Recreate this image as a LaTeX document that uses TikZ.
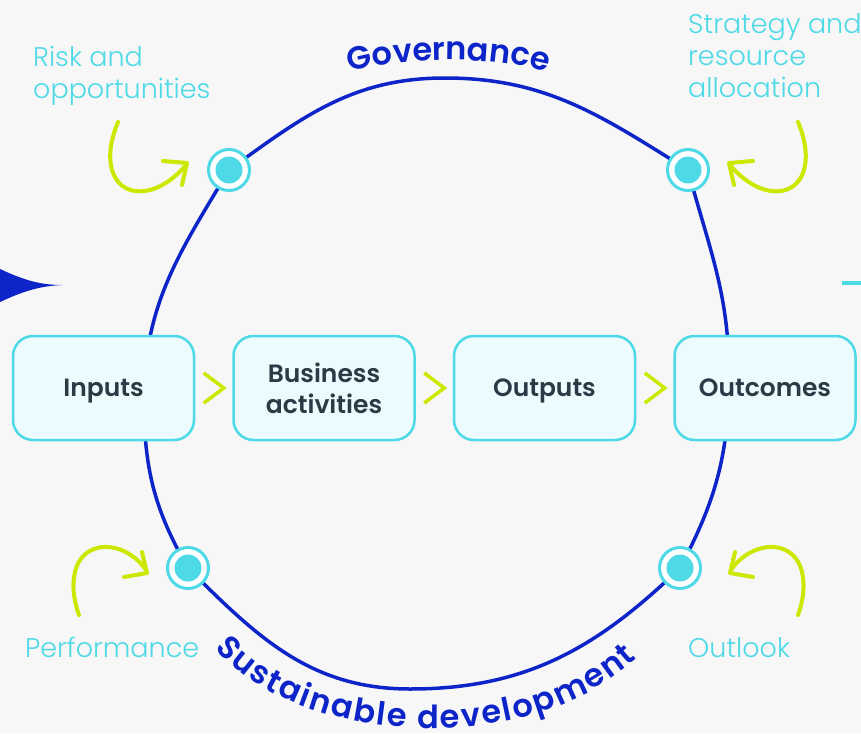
\documentclass[tikz,border=0pt]{standalone}
\usepackage{fontspec}
\setmainfont{Poppins}
\newfontfamily\lightfont{Poppins Light}
\newfontfamily\boxfont{Poppins SemiBold}
\usepackage{tikz}
\usetikzlibrary{positioning,calc,decorations.text}
\definecolor{navy}{RGB}{12,36,200}
\definecolor{aqua}{RGB}{77,217,230}
\definecolor{paleaqua}{RGB}{236,251,254}
\definecolor{limeg}{RGB}{204,232,0}
\definecolor{slate}{RGB}{44,58,70}
\definecolor{bgc}{RGB}{247,247,247}
\newcommand{\arcfont}{\boxfont\fontsize{32}{33}\selectfont\color{navy}}

\begin{document}
\begin{tikzpicture}[x=1pt,y=1pt,
  box/.style={draw=aqua,fill=paleaqua,line width=2.5pt,rounded corners=20pt,
    minimum width=181pt,minimum height=104pt,align=center,text=slate,text depth=0pt,
    font=\boxfont\fontsize{25}{31}\selectfont},
  lbl/.style={text=aqua,align=left,inner sep=0pt,anchor=north west,
    font=\lightfont\fontsize{27}{32}\selectfont},
  ring/.style={circle,draw=aqua,fill=white,line width=3pt,minimum size=41pt,inner sep=0pt},
  curl/.style={draw=limeg,line width=4pt,line cap=round,line join=round},
  chev/.style={draw=limeg,line width=3.5pt},
  node distance=37pt]
\fill[bgc] (0,0) rectangle (861,-733);
\useasboundingbox (0,0) rectangle (861,-733);
% edge pieces
\fill[navy] (-2,-268) .. controls (25,-281) and (42,-285) .. (62,-285)
  .. controls (42,-286) and (25,-290) .. (-2,-303) -- cycle;
\draw[aqua,line width=4pt] (842,-283) -- (864,-283);
% the loop: four arcs meeting at the stops
\coordinate (p1) at (229,-170);
\coordinate (p2) at (688,-170);
\coordinate (p3) at (188,-568);
\coordinate (p4) at (680,-568);
\draw[navy,line width=3.5pt] (p1) to[out=36,in=180] (445,-78) to[out=0,in=148] (p2)
  to[out=-75,in=90] (729,-375) to[out=-90,in=62] (p4)
  to[out=-136,in=0] (410,-689) to[out=180,in=-45] (p3)
  to[out=120,in=-90] (144,-400) to[out=90,in=-121] (p1);
\foreach \p in {p1,p2,p3,p4} {\node[ring] (d\p) at (\p) {}; \fill[aqua] (\p) circle (13.5pt);}
\path[decorate,decoration={text along path,text align=fit to path,
  text={|\arcfont|Governance}}] (350,-72) .. controls (410,-56) and (485,-56) .. (545,-71);
\path[decorate,decoration={text along path,text align=fit to path,
  text={|\arcfont|Sustainable development}}] (215,-648) .. controls (290,-740) and (520,-765) .. (637,-658);
% value chain
\node[box] (inp) at (103.5,-388) {Inputs};
\node[box,right=of inp] (bus) {Business\\activities};
\node[box,right=of bus] (outp) {Outputs};
\node[box,right=of outp] (outc) {Outcomes};
\foreach \a/\b in {inp/bus,bus/outp,outp/outc}
  \draw[chev] ($(\a.east)!.5!(\b.west)+(-10,15)$) -- ++(20,-15) -- ++(-20,-15);
% labels and curly arrows
\node[lbl] (risk) at (33,-46) {Risk and\\opportunities};
\node[lbl] (strat) at (688,-13) {Strategy and\\resource\\allocation};
\node[lbl] (perf) at (25,-637) {Performance};
\node[lbl] (outl) at (688,-637) {Outlook};
\draw[curl] (118,-122) .. controls (100,-165) and (115,-195) .. (145,-191)
  .. controls (160,-189) and (175,-178) .. (185,-166);
\draw[curl] (163,-161) -- (187,-163) -- (182,-185);
\draw[curl] (798,-122) .. controls (816,-165) and (801,-195) .. (771,-191)
  .. controls (756,-189) and (741,-178) .. (731,-166);
\draw[curl] (753,-161) -- (729,-163) -- (734,-185);
\draw[curl] (79,-615) .. controls (68,-585) and (72,-550) .. (103,-547)
  .. controls (122,-546) and (138,-558) .. (146,-570);
\draw[curl] (124,-577) -- (147,-573) -- (142,-552);
\draw[curl] (798,-615) .. controls (809,-585) and (805,-550) .. (774,-547)
  .. controls (755,-546) and (739,-558) .. (731,-570);
\draw[curl] (753,-577) -- (730,-573) -- (735,-552);
\end{tikzpicture}
\end{document}
